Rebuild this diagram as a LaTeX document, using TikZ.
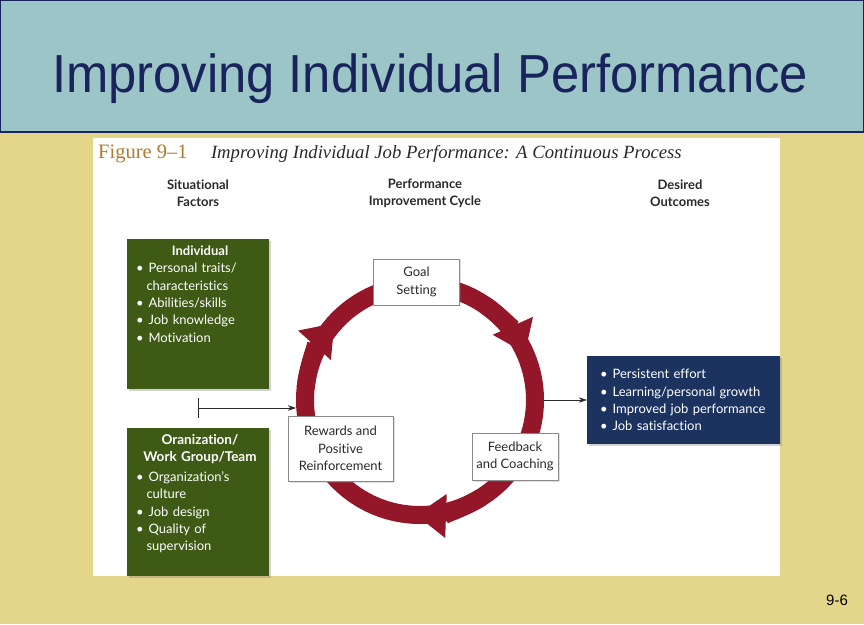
\documentclass[tikz,border=0pt]{standalone}
\usepackage{fontspec}
\setmainfont{Lato}[Ligatures={TeX,NoCommon}]
\newfontfamily\titlefont{Liberation Sans}
\newfontfamily\capfont{Liberation Serif}
\usetikzlibrary{arrows.meta, positioning, shadows}

\definecolor{slidebg}{HTML}{E3D68B}
\definecolor{titlebg}{HTML}{9BC5C6}
\definecolor{titleink}{HTML}{1A245C}
\definecolor{figorange}{HTML}{B07A2E}
\definecolor{factorgreen}{HTML}{3E5A15}
\definecolor{outcomeblue}{HTML}{1C3360}
\definecolor{ringred}{HTML}{931729}
\definecolor{boxgray}{HTML}{8A8A8A}
\definecolor{inkgray}{HTML}{2A2A2A}

\newcommand{\bul}{\textbullet\hspace{5pt}}
\newcommand{\cont}{\hspace*{10.5pt}}

\begin{document}
\begin{tikzpicture}[x=1pt, y=1pt,
  header/.style={font=\bfseries\fontsize{13}{17}\selectfont, align=center, text=inkgray},
  factor/.style={rectangle, fill=factorgreen, minimum width=142pt, minimum height=150pt, inner sep=0pt,
    drop shadow={shadow xshift=2pt, shadow yshift=-2pt, opacity=0.35}},
  factortext/.style={text=white, font=\fontsize{13}{17.3}\selectfont, align=left, text width=128pt, inner sep=0pt},
  cyclebox/.style={rectangle, draw=boxgray, fill=white, text=inkgray, font=\fontsize{13}{17.5}\selectfont, align=center,
    inner sep=2pt, drop shadow={shadow xshift=1.5pt, shadow yshift=-1.5pt, opacity=0.25}},
  ring/.style={circle, draw=ringred, line width=18pt, minimum size=230pt, inner sep=0pt},
  ringtip/.style={ringred, line width=18pt, -{Triangle[width=42pt, length=30pt]}},
  outcome/.style={rectangle, fill=outcomeblue, text=white, font=\fontsize{13}{17.3}\selectfont, align=left,
    text width=167pt, inner sep=13pt, minimum height=86pt,
    drop shadow={shadow xshift=2pt, shadow yshift=-2pt, opacity=0.35}},
  arrow/.style={inkgray, line width=0.7pt, -{Stealth[length=8pt, width=5.5pt]}},
  joinline/.style={inkgray, line width=0.7pt}]

  % Slide
  \useasboundingbox (0,0) rectangle (864,624);
  \fill[slidebg] (0,0) rectangle (864,624);
  \filldraw[fill=titlebg, draw=titleink, line width=1.2pt] (0.6,492) rectangle (863.4,623.4);
  \node (title) [anchor=base, text=titleink, font=\titlefont\fontsize{52}{60}\selectfont] at (430,531) {\scalebox{0.976}[1.03]{Improving Individual Performance}};
  \fill[white] (93,48) rectangle (780,486);
  \node (slideno) [anchor=base, font=\titlefont\fontsize{15}{18}\selectfont] at (837,19) {9-6};

  % Caption and headers
  \node (fignum) [anchor=base west, inner sep=0pt, text=figorange, font=\capfont\fontsize{20.5}{24}\selectfont] at (98,465) {Figure 9–1};
  \node (figcap) [right=23pt of fignum.base east, anchor=base west, inner sep=0pt, text=inkgray, font=\capfont\itshape\fontsize{18.7}{21}\selectfont] {Improving Individual Job Performance: A Continuous Process};
  \node (hsit) [header] at (198,431) {Situational\\Factors};
  \node (hcyc) [header] at (425,431) {Performance\\Improvement Cycle};
  \node (hout) [header] at (680,431) {Desired\\Outcomes};

  % Situational factors
  \node (ind) [factor] at (198,310) {};
  \node (indtxt) [factortext, below=7pt of ind.north, xshift=2pt] {\makebox[128pt]{\bfseries Individual}\\
    \bul Personal traits/\\ \cont characteristics\\ \bul Abilities/skills\\ \bul Job knowledge\\ \bul Motivation};
  \node (org) [factor, minimum height=148pt] at (198,122) {};
  \node (orgtxt) [factortext, below=6.5pt of org.north, xshift=2pt] {\makebox[128pt]{\bfseries\fontsize{13.5}{17}\selectfont Oranization/}\\
    \makebox[128pt]{\bfseries\fontsize{13.5}{17}\selectfont Work Group/Team}\\[2.5pt]
    \bul Organization's\\ \cont culture\\ \bul Job design\\ \bul Quality of\\ \cont supervision};

  % Cycle
  \node (cycle) [ring] at (420,224) {};
  \draw[ringtip] ([shift={(55:115)}]cycle.center) arc[start angle=55, end angle=24, radius=115];
  \draw[ringtip] ([shift={(-58:115)}]cycle.center) arc[start angle=-58, end angle=-92, radius=115];
  \draw[ringtip] ([shift={(174:115)}]cycle.center) arc[start angle=174, end angle=138, radius=115];
  \node (goal) [cyclebox, minimum width=86pt, minimum height=46pt] at (416.5,342) {Goal\\Setting};
  \node (feedback) [cyclebox, minimum width=86pt, minimum height=47pt] at (515,167.5) {Feedback\\and Coaching};
  \node (reward) [cyclebox, minimum width=105pt, minimum height=65pt] at (340.5,175.5) {Rewards and\\Positive\\Reinforcement};

  % Desired outcomes
  \node (out) [outcome] at (683.5,224) {\bul Persistent effort\\ \bul Learning/personal growth\\ \bul Improved job performance\\ \bul Job satisfaction};

  % Arrows
  \coordinate[below=9pt of ind.south] (jtop);
  \coordinate[above=10pt of org.north] (jbot);
  \coordinate (join) at (198,216);
  \draw [joinline] (jtop) -- (jbot);
  \draw [arrow] (join) -- (join -| cycle.west);
  \draw [arrow] (cycle.east) -- (out.west);
\end{tikzpicture}
\end{document}
